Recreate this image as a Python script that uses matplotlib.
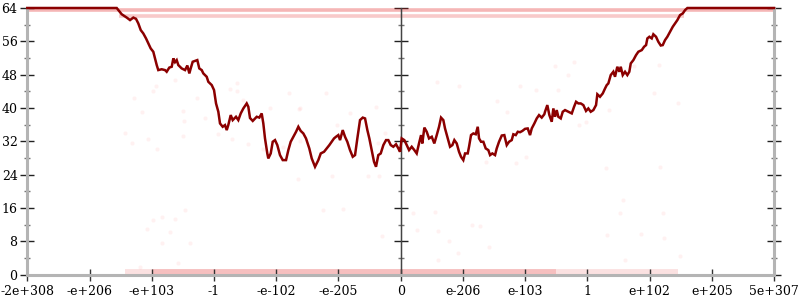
import matplotlib
matplotlib.use("Agg")
import matplotlib.pyplot as plt
from matplotlib.ticker import MultipleLocator, NullFormatter

# ---------------- data ----------------
tick_labels = ["-2e+308", "-e+206", "-e+103", "-1", "-e-102", "-e-205", "0",
               "e-206", "e-103", "1", "e+102", "e+205", "5e+307"]

line_x = [0.0, 1.437, 1.517, 1.598, 1.651, 1.704, 1.747, 1.784, 1.823, 1.864, 1.908,
          1.945, 1.983, 2.025, 2.052, 2.080, 2.105, 2.160, 2.213, 2.240, 2.282, 2.321,
          2.347, 2.374, 2.401, 2.427, 2.481, 2.535, 2.572, 2.604, 2.626, 2.658, 2.695,
          2.732, 2.764, 2.803, 2.829, 2.883, 2.909, 2.964, 3.001, 3.033, 3.070, 3.097,
          3.140, 3.177, 3.205, 3.230, 3.269, 3.301, 3.354, 3.391, 3.430, 3.472, 3.526,
          3.552, 3.579, 3.623, 3.687, 3.729, 3.767, 3.793, 3.820, 3.857, 3.873, 3.912,
          3.944, 3.981, 4.018, 4.061, 4.105, 4.158, 4.195, 4.233, 4.275, 4.319, 4.356,
          4.394, 4.436, 4.479, 4.532, 4.571, 4.624, 4.677, 4.716, 4.769, 4.812, 4.854,
          4.892, 4.929, 4.961, 4.998, 5.026, 5.069, 5.106, 5.143, 5.186, 5.230, 5.267,
          5.304, 5.347, 5.391, 5.428, 5.465, 5.497, 5.535, 5.572, 5.604, 5.641, 5.680,
          5.722, 5.765, 5.802, 5.841, 5.882, 5.926, 5.963, 5.990, 6.017, 6.059, 6.098,
          6.135, 6.178, 6.220, 6.258, 6.295, 6.328, 6.348, 6.381, 6.419, 6.456, 6.500,
          6.541, 6.580, 6.617, 6.649, 6.686, 6.713, 6.757, 6.794, 6.831, 6.863, 6.901,
          6.938, 6.970, 7.007, 7.035, 7.078, 7.099, 7.131, 7.168, 7.207, 7.239, 7.260,
          7.292, 7.329, 7.367, 7.409, 7.437, 7.473, 7.517, 7.544, 7.581, 7.625, 7.666,
          7.705, 7.742, 7.785, 7.811, 7.850, 7.882, 7.919, 7.956, 7.999, 8.042, 8.079,
          8.107, 8.149, 8.187, 8.224, 8.267, 8.309, 8.320, 8.357, 8.390, 8.428, 8.454,
          8.481, 8.508, 8.534, 8.573, 8.605, 8.642, 8.695, 8.750, 8.787, 8.819, 8.856,
          8.894, 8.936, 8.979, 9.016, 9.055, 9.097, 9.140, 9.161, 9.204, 9.248, 9.285,
          9.312, 9.338, 9.376, 9.418, 9.445, 9.482, 9.514, 9.537, 9.569, 9.606, 9.643,
          9.675, 9.698, 9.740, 9.783, 9.820, 9.875, 9.912, 9.944, 9.965, 9.997, 10.035,
          10.061, 10.104, 10.141, 10.180, 10.212, 10.249, 10.286, 10.330, 10.373,
          10.410, 10.447, 10.490, 10.534, 10.571, 10.608, 12.0]
line_y = [64.0, 64.0, 62.5, 61.7, 61.1, 61.7, 61.4, 60.3, 58.7, 57.9, 56.7,
          55.5, 54.3, 53.5, 51.9, 50.3, 49.1, 49.3, 49.1, 48.7, 49.7, 49.9,
          51.9, 51.0, 51.5, 50.3, 49.5, 49.1, 50.2, 48.3, 49.5, 51.1, 51.3,
          51.5, 49.5, 49.1, 48.3, 47.5, 46.3, 45.5, 44.3, 41.1, 39.1, 36.3,
          35.5, 35.9, 34.7, 35.9, 38.3, 37.1, 37.9, 37.1, 38.7, 39.9, 41.1,
          40.3, 37.6, 36.9, 37.9, 37.7, 38.7, 36.3, 32.7, 29.1, 27.9, 29.1,
          31.9, 32.3, 31.1, 28.7, 27.5, 27.5, 29.9, 31.9, 33.1, 34.3, 35.5,
          34.5, 33.9, 32.7, 30.3, 27.9, 25.9, 27.5, 29.1, 29.5, 30.3, 31.1,
          31.9, 32.7, 33.1, 33.5, 32.3, 34.7, 33.1, 31.9, 29.9, 28.3, 28.7,
          32.7, 37.1, 37.7, 37.5, 34.7, 32.7, 29.9, 27.1, 25.9, 28.7, 29.1,
          31.1, 32.3, 32.3, 31.1, 30.7, 31.3, 30.3, 29.5, 32.7, 32.3, 31.1,
          29.9, 30.7, 29.9, 29.1, 31.5, 33.5, 31.5, 35.3, 34.3, 32.7, 33.1,
          31.5, 33.5, 35.5, 37.7, 37.1, 35.1, 32.7, 30.7, 31.1, 32.3, 31.5,
          29.5, 28.3, 27.5, 29.1, 29.1, 30.7, 33.5, 33.9, 33.7, 35.5, 32.7,
          31.9, 31.9, 30.3, 29.9, 28.7, 29.1, 28.7, 30.3, 31.9, 33.4, 33.5,
          31.1, 31.9, 32.3, 33.7, 33.5, 34.3, 34.2, 34.5, 35.0, 35.1, 33.5,
          35.1, 36.3, 37.5, 38.3, 37.7, 38.5, 39.1, 40.7, 38.3, 36.7, 39.9,
          37.9, 39.5, 37.9, 37.5, 39.1, 39.5, 39.1, 38.7, 40.3, 41.5, 41.1,
          41.1, 40.7, 39.3, 39.9, 39.1, 39.5, 40.7, 43.3, 42.7, 43.5, 44.7,
          45.5, 45.9, 47.9, 48.7, 47.5, 49.9, 48.7, 49.9, 47.9, 48.7, 47.9,
          48.7, 50.7, 51.5, 52.7, 53.5, 53.9, 54.7, 55.1, 56.7, 57.1, 56.7,
          57.7, 57.1, 55.9, 55.0, 55.1, 56.3, 57.1, 58.3, 59.5,
          60.3, 61.1, 62.3, 62.7, 63.5, 64.0, 64.0]

# faint dense bands of samples: (y value, x start, x end)
band_y = [63.5, 62.1, 0.7, 0.7]
band_x0 = [0.0, 1.47, 1.57, 2.0]
band_x1 = [12.0, 10.55, 10.45, 8.5]
band_alpha = [0.30, 0.22, 0.12, 0.16]

# sparse faint samples
dots_x = [2.02, 2.16, 2.37, 2.53, 1.92, 2.29, 2.16, 2.61, 2.42, 1.81, 4.75, 5.08,
          5.70, 6.20, 6.55, 6.26, 6.60, 6.78, 7.15, 7.28, 6.92, 7.42, 6.60, 9.53,
          10.22, 9.32, 9.86, 10.23, 10.49, 9.61, 9.57, 2.07, 2.02, 1.71, 1.84, 1.57,
          1.68, 1.94, 2.08, 2.37, 2.50, 2.52, 2.50, 2.73, 2.86, 3.06, 3.29, 3.37,
          3.37, 3.26, 3.47, 3.55, 3.90, 4.20, 4.37, 4.11, 3.79, 4.80, 4.38, 5.19,
          5.60, 4.98, 5.75, 4.38, 5.64, 4.35, 4.90, 5.48, 5.65, 6.58, 6.94, 7.55,
          7.71, 7.92, 8.18, 8.48, 8.79, 8.69, 8.53, 8.87, 8.98, 9.35, 9.75, 10.15,
          10.07, 10.46, 8.02, 7.85, 7.37, 10.17, 9.30]
dots_y = [13.1, 13.8, 13.4, 15.5, 10.9, 10.2, 7.6, 7.6, 2.8, 1.8, 15.5, 15.8,
          9.3, 14.8, 15.0, 10.7, 10.5, 8.0, 11.9, 11.7, 5.2, 6.6, 3.5, 14.8,
          14.8, 9.5, 9.8, 8.8, 4.5, 3.5, 17.9, 45.3, 44.1, 42.4, 39.0, 34.0,
          31.6, 32.6, 30.2, 46.7, 39.3, 36.9, 33.3, 42.4, 37.6, 33.8, 32.6, 46.0,
          44.1, 44.6, 41.9, 31.4, 40.0, 43.6, 39.8, 30.6, 30.2, 43.6, 40.0, 38.8,
          40.2, 36.0, 34.0, 32.1, 31.6, 23.0, 23.7, 23.7, 23.7, 46.2, 45.3, 41.7,
          39.0, 45.3, 44.3, 50.1, 51.0, 47.9, 44.3, 35.9, 36.6, 39.5, 50.1, 50.3,
          43.6, 41.2, 28.2, 26.8, 27.0, 25.8, 25.6]

# ---------------- figure ----------------
plt.rcParams['font.family'] = ['DejaVu Serif']
fig = plt.figure(figsize=(8, 3), dpi=100)
ax = fig.add_axes([27.3 / 800, 25.3 / 300, (774 - 27.3) / 800, (274.7 - 8) / 300])
ax.set_xlim(0, 12)
ax.set_ylim(0, 64)

for y, x0, x1, a in zip(band_y, band_x0, band_x1, band_alpha):
    ax.hlines(y, x0, x1, colors='#e01010', alpha=a,
              linewidth=2.6 if y > 1 else 4.2, clip_on=False, zorder=1)

ax.scatter(dots_x, dots_y, s=9, color='#ff2020', alpha=0.06, linewidths=0, zorder=1)

ax.axvline(6, color='#444444', linewidth=1.0, zorder=2)

ax.plot(line_x, line_y, color='#8b0000', linewidth=1.8, clip_on=False, zorder=3,
        solid_joinstyle='miter')

# spines
for side in ['left', 'right', 'bottom']:
    ax.spines[side].set_color('#b4b4b4')
    ax.spines[side].set_linewidth(2.2)
ax.spines['top'].set_visible(False)

ax.set_xticks(range(13))
ax.set_xticklabels(tick_labels)
ax.yaxis.set_major_locator(MultipleLocator(8))
ax.yaxis.set_minor_locator(MultipleLocator(4))

ax.tick_params(axis='x', direction='inout', length=9, width=1, color='#333333',
               labelsize=9, pad=3)
ax.tick_params(axis='y', which='major', direction='inout', length=10, width=1,
               color='#222222', labelsize=9, left=True, right=True,
               labelleft=True, labelright=False, pad=2)
ax.tick_params(axis='y', which='minor', direction='inout', length=5, width=1,
               color='#777777', left=True, right=True)

# center axis ticks (no labels)
sec = ax.secondary_yaxis(0.5)
sec.spines['left'].set_visible(False)
sec.yaxis.set_major_locator(MultipleLocator(8))
sec.yaxis.set_minor_locator(MultipleLocator(4))
sec.yaxis.set_major_formatter(NullFormatter())
sec.yaxis.set_minor_formatter(NullFormatter())
sec.tick_params(which='major', direction='inout', length=10, width=1, color='#222222',
                labelleft=False, labelright=False)
sec.tick_params(which='minor', direction='inout', length=5, width=1, color='#777777')

fig.savefig('out.png', dpi=100)
